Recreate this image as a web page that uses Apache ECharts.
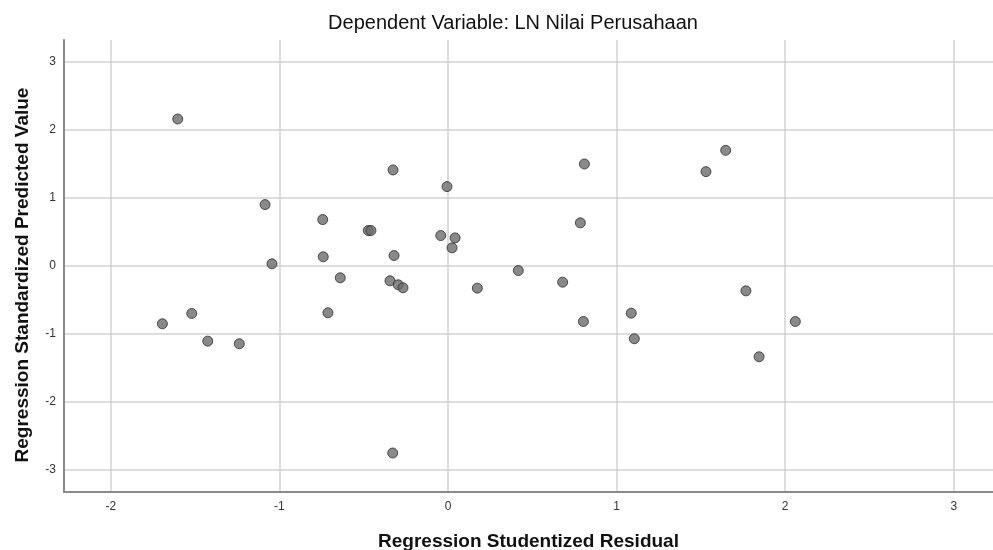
<!DOCTYPE html>
<html>
<head>
<meta charset="utf-8">
<script src="https://cdn.jsdelivr.net/npm/echarts@6/dist/echarts.min.js"></script>
<style>
  html, body { margin: 0; padding: 0; background: #fff; }
  #chart { width: 993px; height: 550px; }
</style>
</head>
<body>
<div id="chart"></div>
<script>
// Regression Studentized Residual (x)
var residual = [-1.603, -1.085, -0.743, -0.740, -0.326, -0.006, 0.809, -0.473, -0.457, -0.043,
  0.042, 0.024, 0.785, -0.320, -0.639, -0.344, -0.295, -0.267, 0.174, 0.417,
  0.680, -0.712, 0.803, 1.087, 1.105, 1.530, 1.647, 1.767, 2.060, 1.845,
  -1.694, -1.520, -1.425, -1.238, -1.044, -0.328]
// Regression Standardized Predicted Value (y)
var predicted = [2.157, 0.897, 0.676, 0.128, 1.407, 1.162, 1.495, 0.515, 0.515, 0.441,
  0.407, 0.260, 0.628, 0.147, -0.181, -0.225, -0.284, -0.328, -0.333, -0.074,
  -0.245, -0.696, -0.824, -0.701, -1.078, 1.382, 1.696, -0.373, -0.824, -1.343,
  -0.858, -0.706, -1.113, -1.152, 0.025, -2.760]
// gridline positions
var xTicks = [-2, -1, 0, 1, 2, 3]
var yTicks = [-3, -2, -1, 0, 1, 2, 3]

var points = residual.map(function (x, i) { return [x, predicted[i]] })
var gridLines = xTicks.map(function (v) { return { xAxis: v } })
  .concat(yTicks.map(function (v) { return { yAxis: v } }))

var font = 'Liberation Sans, Arial, sans-serif'
var chart = echarts.init(document.getElementById('chart'))
chart.setOption({
  animation: false,
  backgroundColor: '#fff',
  title: {
    text: 'Dependent Variable: LN Nilai Perusahaan',
    left: 508,
    textAlign: 'center',
    top: 8,
    textStyle: { color: '#111', fontSize: 20, fontWeight: 'normal', fontFamily: font }
  },
  grid: { left: 64, top: 40, right: 0, bottom: 58, outerBoundsMode: 'none', containLabel: false },
  xAxis: {
    type: 'value',
    min: -2.2776,
    max: 3.2325,
    splitNumber: 5,
    name: 'Regression Studentized Residual',
    nameLocation: 'middle',
    nameGap: 40,
    nameTextStyle: { color: '#111', fontSize: 19, fontWeight: 'bold', fontFamily: font },
    axisLine: { show: true, onZero: false, lineStyle: { color: '#8a8a8a', width: 2 } },
    axisTick: { show: false },
    axisLabel: { color: '#333', fontSize: 12, fontFamily: font, margin: 9, showMinLabel: false, showMaxLabel: false },
    splitLine: { show: false }
  },
  yAxis: {
    type: 'value',
    min: -3.334,
    max: 3.32,
    splitNumber: 6,
    name: 'Regression Standardized Predicted Value',
    nameLocation: 'middle',
    nameGap: 32,
    nameTextStyle: { color: '#111', fontSize: 19, fontWeight: 'bold', fontFamily: font, padding: [0, 18, 0, 0] },
    axisLine: { show: true, onZero: false, lineStyle: { color: '#8a8a8a', width: 2 } },
    axisTick: { show: false },
    axisLabel: { color: '#333', fontSize: 12, fontFamily: font, margin: 8, showMinLabel: false, showMaxLabel: false },
    splitLine: { show: false }
  },
  series: [{
    type: 'scatter',
    data: [],
    z: 0,
    silent: true,
    markLine: {
      silent: true,
      z: 0,
      symbol: 'none',
      animation: false,
      label: { show: false },
      lineStyle: { type: 'solid', color: '#d2d2d2', width: 1.5 },
      data: gridLines
    }
  }, {
    type: 'scatter',
    z: 10,
    data: points,
    symbolSize: 10,
    itemStyle: { color: '#6b6b6b', borderColor: '#2e2e2e', borderWidth: 1 }
  }]
})
</script>
</body>
</html>
